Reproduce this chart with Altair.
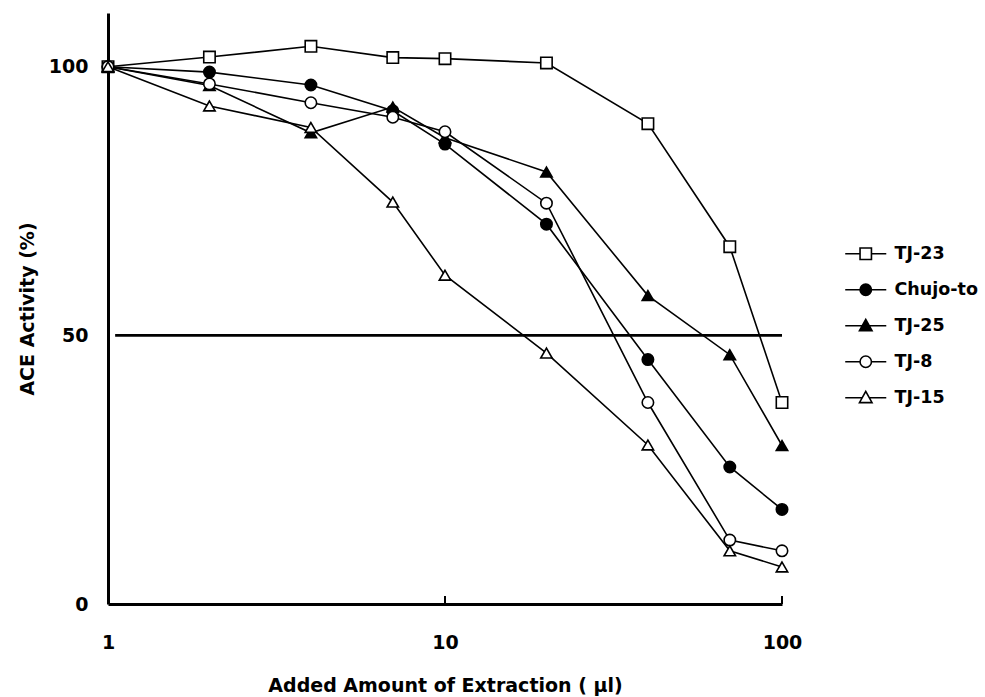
import altair as alt
import pandas as pd

# ---- data ----
x_vals = [1, 2, 4, 7, 10, 20, 40, 70, 100]
series_names = ["TJ-23", "Chujo-to", "TJ-25", "TJ-8", "TJ-15"]
tj23 = [100, 101.8, 103.8, 101.7, 101.5, 100.7, 89.4, 66.5, 37.5]
chujo = [100, 99.0, 96.6, 91.8, 85.6, 70.7, 45.5, 25.5, 17.6]
tj25 = [100, 96.5, 87.7, 92.5, 86.8, 80.4, 57.4, 46.4, 29.5]
tj8 = [100, 96.8, 93.3, 90.6, 87.9, 74.6, 37.5, 11.9, 9.9]
tj15 = [100, 92.7, 88.7, 74.8, 61.2, 46.7, 29.6, 9.9, 6.9]

point_shapes = ["square", "circle", "triangle-up", "circle", "triangle-up"]
point_fills = ["white", "black", "black", "white", "white"]
point_strokes = ["black", "black", "black", "black", "black"]
legend_paths = [
    "M-1,-1H1V1H-1ZM-3.6,0H-1M1,0H3.6",
    "M-1,0A1,1,0,1,1,1,0A1,1,0,1,1,-1,0ZM-3.6,0H-1M1,0H3.6",
    "M0,-1.1L1.1,0.85H-1.1ZM-3.6,0H-0.55M0.55,0H3.6",
    "M-1,0A1,1,0,1,1,1,0A1,1,0,1,1,-1,0ZM-3.6,0H-1M1,0H3.6",
    "M0,-1.1L1.1,0.85H-1.1ZM-3.6,0H-0.55M0.55,0H3.6",
]

x_ticks = [1, 10, 100]
y_ticks = [0, 50, 100]
ref_level = 50

rows = []
for name, vals in zip(series_names, [tj23, chujo, tj25, tj8, tj15]):
    for xv, yv in zip(x_vals, vals):
        rows.append({"series": name, "x": xv, "y": yv})
df = pd.DataFrame(rows)

ref_df = pd.DataFrame({"x": [1.05], "x2": [100], "y": [ref_level]})
tick_df = pd.DataFrame({"x": [10, 100], "y": [0, 0], "y2": [1.5, 1.5]})

font = "DejaVu Sans"
xscale = alt.Scale(type="log", domain=[1, 100])
yscale = alt.Scale(domain=[0, 110])

x_axis = alt.Axis(values=x_ticks, format="d", title="Added Amount of Extraction ( μl)",
                  ticks=False, grid=False, domainColor="black", domainWidth=3,
                  labelFlush=False, labelOverlap=False,
                  labelFont=font, labelFontSize=19, labelFontWeight="bold", labelColor="black",
                  labelPadding=29, titleFont=font, titleFontSize=19, titleFontWeight="bold",
                  titleColor="black", titlePadding=24)
y_axis = alt.Axis(values=y_ticks, title="ACE Activity (%)", ticks=False, grid=False,
                  domainColor="black", domainWidth=3,
                  labelFlush=False, labelOverlap=False,
                  labelFont=font, labelFontSize=19, labelFontWeight="bold", labelColor="black",
                  labelPadding=20, titleFont=font, titleFontSize=19, titleFontWeight="bold",
                  titleColor="black", titlePadding=11)

X = alt.X("x:Q", scale=xscale, axis=x_axis)
Y = alt.Y("y:Q", scale=yscale, axis=y_axis)

base = alt.Chart(df)

lines = base.mark_line(color="black", strokeWidth=1.6).encode(x=X, y=Y, detail="series:N")

points = base.mark_point(filled=True, stroke="black", strokeWidth=1.6, size=130, opacity=1).encode(
    x=X, y=Y,
    shape=alt.Shape("series:N", scale=alt.Scale(domain=series_names, range=point_shapes), legend=None),
    fill=alt.Fill("series:N", scale=alt.Scale(domain=series_names, range=point_fills), legend=None),
)

leg = alt.Legend(title=None, orient="none", legendX=749, legendY=232,
                 labelFont=font, labelFontSize=17.5, labelFontWeight="bold", labelColor="black",
                 labelOffset=20, symbolSize=130, symbolStrokeWidth=1.6,
                 symbolStrokeColor="black", symbolOpacity=1, rowPadding=17)

legend_layer = base.mark_point(filled=True, strokeWidth=1.6, size=130, opacity=0).encode(
    x=X, y=Y,
    shape=alt.Shape("series:N", scale=alt.Scale(domain=series_names, range=legend_paths), legend=leg),
    fill=alt.Fill("series:N", scale=alt.Scale(domain=series_names, range=point_fills), legend=leg),
    stroke=alt.Stroke("series:N", scale=alt.Scale(domain=series_names, range=point_strokes), legend=leg),
)

ref_line = alt.Chart(ref_df).mark_rule(color="black", strokeWidth=2.6).encode(
    x=X, x2="x2:Q", y=Y)

inner_ticks = alt.Chart(tick_df).mark_rule(color="black", strokeWidth=2).encode(
    x=X, y=Y, y2="y2:Q")

chart = alt.layer(ref_line, inner_ticks, lines, points, legend_layer).resolve_scale(
    shape="independent", fill="independent", stroke="independent"
).properties(
    width=674, height=591,
    autosize=alt.AutoSizeParams(type="none"),
    padding={"left": 108, "top": 13, "right": 203, "bottom": 93},
    background="white",
).configure_view(stroke=None)

chart.save("out.html", embed_options={"renderer": "svg", "actions": False})
